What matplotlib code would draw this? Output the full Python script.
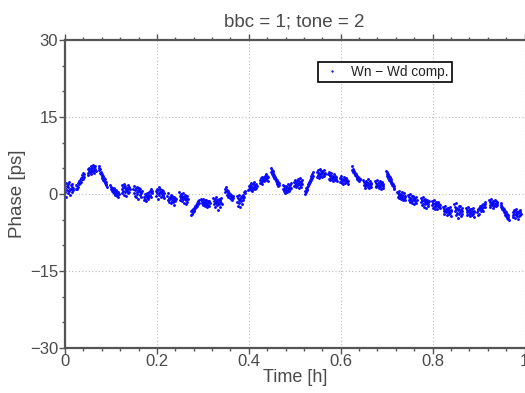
import numpy as np
import matplotlib
matplotlib.use("Agg")
import matplotlib.pyplot as plt
from matplotlib.ticker import MultipleLocator

# Scan start times [h]; each scan lasts scan_len hours
scan_start = [0.000, 0.024, 0.049, 0.073, 0.099, 0.123, 0.149, 0.172, 0.198, 0.223,
              0.249, 0.274, 0.297, 0.323, 0.348, 0.374, 0.399, 0.424, 0.448, 0.474,
              0.498, 0.522, 0.548, 0.573, 0.598, 0.624, 0.649, 0.675, 0.699, 0.723,
              0.747, 0.774, 0.798, 0.823, 0.847, 0.873, 0.897, 0.923, 0.948, 0.974]
scan_len = 0.018

# Phase samples per scan [ps]
phase = [
    [1.2, 0.4, 2.1, -0.6, 1.5, 0.8, 1.9, 0.1, 1.3, 2.4, 0.6, 1.0, -0.2, 1.7, 0.9, 2.0, 0.3, 1.4, 1.1, 0.7],
    [1.0, 1.8, 0.9, 1.6, 2.2, 1.4, 2.5, 1.9, 2.8, 2.1, 2.6, 3.2, 2.4, 3.0, 3.7, 2.9, 3.4, 4.1, 3.3, 3.8],
    [4.0, 4.8, 3.7, 4.5, 5.1, 4.2, 4.9, 5.4, 4.4, 3.9, 4.7, 5.0, 4.3, 5.6, 4.6, 4.1, 5.2, 4.8, 5.5, 4.5],
    [5.4, 4.6, 5.0, 4.1, 4.8, 3.9, 4.3, 3.5, 3.9, 3.2, 3.6, 2.8, 3.1, 2.5, 2.9, 2.1, 2.4, 1.7, 2.0, 1.3],
    [1.7, 1.0, 1.4, 0.6, 1.1, 0.3, 0.9, 1.2, 0.2, 0.7, -0.1, 0.5, 0.1, 0.8, -0.4, 0.3, -0.2, 0.4, -0.5, 0.0],
    [0.9, 1.8, 0.2, 1.3, 0.6, 2.0, -0.2, 1.1, 0.4, 1.5, 0.8, -0.4, 1.2, 0.5, 1.7, 0.1, 0.9, 1.4, 0.3, 1.0],
    [1.0, 0.1, 1.6, -0.3, 0.7, 1.2, -0.6, 0.4, 1.4, 0.0, 0.8, -0.9, 0.6, 1.1, -0.2, 0.3, 0.9, 0.2, -0.5, 0.5],
    [-0.6, -1.2, 0.0, -0.9, -0.3, -1.4, -0.5, 0.2, -1.0, -0.2, -0.7, 0.4, -0.4, -0.1, 0.6, -0.5, 0.3, 0.9, 0.1, 0.5],
    [0.5, -0.4, 1.0, 0.2, -0.9, 0.7, 0.1, 1.3, -0.2, 0.4, 0.9, -0.6, 0.3, 0.0, 0.8, -0.3, 0.6, -0.1, 0.2, -0.7],
    [-0.3, -1.1, 0.1, -0.7, -1.5, -0.5, -1.0, -0.2, -1.8, -0.8, -0.4, -1.3, -0.9, -1.6, -0.6, -1.1, -2.1, -0.7, -1.4, -1.0],
    [0.3, -0.4, -1.1, 0.0, -0.8, -0.3, -1.4, -0.6, 0.1, -1.0, -0.5, -1.7, -0.2, -0.9, -2.0, -0.7, -1.2, -0.4, -1.5, -0.9],
    [-4.0, -3.4, -3.8, -3.1, -3.6, -3.0, -3.3, -2.7, -3.1, -2.4, -2.8, -2.2, -2.5, -1.9, -2.3, -1.7, -2.0, -1.4, -1.8, -1.2],
    [-1.0, -1.8, -1.3, -2.2, -0.9, -1.6, -2.0, -1.2, -2.4, -1.5, -1.9, -1.1, -1.7, -2.6, -1.4, -2.1, -1.6, -1.3, -2.3, -1.8],
    [-0.7, -1.3, -2.0, -1.0, -2.6, -1.5, -0.5, -1.8, -2.2, -1.2, -3.1, -1.6, -0.9, -2.0, -1.4, -2.5, -1.1, -1.7, -0.8, -1.9],
    [0.9, 0.3, 1.4, 0.6, -0.2, 0.8, 0.1, 0.5, -0.5, 0.2, -0.1, -0.7, 0.0, -0.4, -0.9, -0.2, -1.1, -0.6, -0.3, -0.8],
    [-0.4, -1.5, -0.8, -2.3, -1.1, -0.2, -1.8, -0.9, -2.6, -1.3, -0.6, -1.9, -0.3, -1.2, -0.1, -0.8, 0.3, -0.5, 0.1, 0.6],
    [0.7, 1.5, 0.9, 1.8, 1.1, 2.1, 0.8, 1.6, 1.2, 0.5, 1.9, 1.0, 1.4, 2.3, 1.3, 0.9, 1.7, 1.2, 2.0, 1.5],
    [2.2, 2.8, 2.4, 3.1, 2.6, 1.9, 3.3, 2.7, 3.0, 2.5, 3.4, 2.9, 3.6, 3.2, 2.8, 3.8, 3.1, 3.5, 2.6, 3.3],
    [5.1, 4.3, 4.7, 3.9, 4.4, 3.6, 4.1, 3.2, 3.7, 2.9, 3.4, 2.6, 3.0, 2.2, 2.7, 1.9, 2.4, 1.5, 2.1, 1.7],
    [1.8, 0.9, 1.5, 0.5, 1.2, 0.2, 1.0, 1.6, 0.7, 1.3, 0.4, 1.1, 1.9, 0.8, 1.4, 0.6, 1.7, 1.0, 2.1, 1.2],
    [1.5, 2.4, 1.8, 2.8, 1.3, 2.2, 1.9, 2.6, 1.6, 2.9, 2.0, 1.2, 2.5, 2.1, 3.1, 1.7, 2.3, 1.4, 2.7, 2.0],
    [0.0, 0.6, 0.3, 1.1, 0.7, 1.4, 1.0, 1.9, 1.5, 2.3, 1.9, 2.7, 2.4, 3.1, 2.8, 3.5, 3.2, 3.9, 3.6, 4.3],
    [3.4, 4.3, 3.7, 4.6, 3.9, 3.2, 4.1, 4.8, 3.6, 4.4, 3.8, 4.2, 3.3, 4.5, 3.9, 4.0, 3.5, 4.7, 3.8, 4.1],
    [3.9, 3.0, 4.2, 3.5, 2.7, 3.7, 3.2, 4.0, 2.9, 3.6, 3.3, 2.5, 3.8, 3.1, 3.4, 2.8, 3.6, 3.0, 3.3, 2.6],
    [3.2, 2.4, 2.9, 3.5, 2.6, 2.2, 3.0, 2.7, 1.9, 2.8, 3.3, 2.5, 2.1, 2.9, 2.6, 3.1, 2.3, 2.8, 2.0, 2.6],
    [5.4, 4.6, 4.9, 4.2, 4.7, 4.0, 4.4, 3.7, 4.1, 3.5, 3.9, 3.2, 3.6, 3.0, 3.4, 2.8, 3.2, 2.6, 3.0, 2.9],
    [2.7, 1.8, 2.4, 1.5, 2.2, 1.2, 2.0, 2.6, 1.7, 2.3, 1.4, 2.1, 2.9, 1.9, 1.1, 2.5, 1.6, 2.2, 1.3, 2.0],
    [2.5, 1.6, 2.2, 1.3, 2.0, 2.7, 1.5, 1.9, 1.1, 2.3, 1.8, 2.6, 1.4, 2.1, 0.9, 1.7, 2.4, 1.2, 1.9, 1.6],
    [4.5, 3.8, 4.2, 3.5, 3.9, 3.1, 3.6, 2.8, 3.3, 2.5, 2.9, 2.2, 2.6, 1.8, 2.2, 1.5, 1.9, 1.1, 1.5, 0.9],
    [0.4, -0.5, 0.1, -0.8, -0.2, 0.6, -0.6, 0.0, -1.0, -0.3, 0.3, -0.7, -0.1, -1.2, -0.4, 0.2, -0.9, -0.3, -0.6, -1.1],
    [-0.2, -1.1, -0.5, -1.6, -0.7, 0.0, -1.3, -0.9, -0.4, -1.8, -0.6, -1.2, -0.3, -1.0, -2.0, -0.8, -1.4, -0.5, -1.7, -1.1],
    [-0.8, -1.6, -1.1, -2.2, -1.4, -0.6, -1.9, -1.2, -2.5, -1.5, -1.0, -2.0, -1.3, -2.7, -1.7, -1.1, -2.3, -1.6, -1.9, -1.4],
    [-1.4, -2.2, -1.7, -2.7, -2.0, -1.2, -2.5, -1.9, -2.9, -2.1, -1.6, -2.4, -1.8, -3.0, -2.3, -1.5, -2.6, -2.0, -2.8, -2.2],
    [-2.6, -3.4, -2.9, -3.8, -3.1, -2.4, -3.6, -3.0, -4.1, -3.3, -2.8, -3.5, -2.7, -3.9, -3.2, -2.5, -3.7, -3.1, -4.2, -3.4],
    [-2.0, -3.4, -2.6, -4.1, -3.0, -1.7, -3.7, -2.8, -4.6, -3.2, -2.3, -3.9, -2.9, -3.5, -2.4, -4.3, -3.1, -2.7, -3.8, -3.3],
    [-2.8, -3.6, -3.1, -4.0, -3.3, -2.6, -3.9, -3.2, -4.3, -3.5, -2.9, -3.7, -3.0, -4.1, -3.4, -2.7, -3.8, -3.3, -4.4, -3.6],
    [-3.6, -2.9, -4.1, -3.2, -2.7, -3.8, -3.0, -2.4, -3.4, -2.6, -3.1, -2.1, -2.8, -3.3, -1.9, -2.5, -2.2, -1.6, -2.6, -2.0],
    [-1.2, -2.1, -1.5, -2.5, -1.8, -1.0, -2.2, -1.6, -2.7, -1.9, -1.3, -2.3, -1.7, -1.1, -2.0, -1.4, -2.4, -1.8, -1.5, -2.1],
    [-1.8, -2.6, -2.2, -3.0, -2.5, -3.2, -2.8, -3.5, -3.0, -3.7, -3.3, -4.0, -3.6, -4.3, -3.8, -4.6, -4.1, -4.9, -4.4, -5.1],
    [-4.5, -3.6, -4.1, -3.2, -3.9, -4.7, -3.4, -4.0, -3.0, -3.8, -4.3, -3.5, -4.8, -3.7, -3.3, -4.2, -3.6, -4.0, -3.1, -3.9],
]

x_ticks = [0, 0.2, 0.4, 0.6, 0.8, 1]
x_ticklabels = ["0", "0.2", "0.4", "0.6", "0.8", "1"]
y_ticks = [-30, -15, 0, 15, 30]
y_ticklabels = ["\u221230", "\u221215", "0", "15", "30"]

# Assemble sample times: uniform sampling within each scan
times = []
values = []
for t0, vals in zip(scan_start, phase):
    times.extend(np.linspace(t0, t0 + scan_len, len(vals)))
    values.extend(vals)

plt.rcParams["font.family"] = ["Liberation Sans", "DejaVu Sans"]
text_color = "#4a4a4a"
axis_color = "#555555"

fig = plt.figure(figsize=(5.25, 3.93), dpi=100)
ax = fig.add_axes([65 / 525, 1 - 348 / 393, 459.5 / 525, 308 / 393])

ax.plot(times, values, linestyle="none", marker="o", markersize=2.1,
        markeredgewidth=0, color="#0a0aff", label="Wn \u2212 Wd comp.")

ax.set_xlim(0, 1)
ax.set_ylim(-30, 30)
ax.set_xticks(x_ticks)
ax.set_xticklabels(x_ticklabels)
ax.set_yticks(y_ticks)
ax.set_yticklabels(y_ticklabels)
ax.xaxis.set_minor_locator(MultipleLocator(0.04))
ax.yaxis.set_minor_locator(MultipleLocator(5))

ax.tick_params(which="both", direction="out", color=axis_color,
               labelcolor=text_color, labelsize=12, top=True, right=False, width=1.0)
ax.tick_params(which="major", length=4, pad=1)
ax.tick_params(which="minor", length=2.5)
ax.tick_params(axis="x", which="major", pad=0)

for side in ("left", "top", "bottom"):
    ax.spines[side].set_color(axis_color)
    ax.spines[side].set_linewidth(1.6)
ax.spines["right"].set_visible(False)

ax.grid(True, which="major", linestyle=(0, (1, 2)), color="#bbbbbb", linewidth=0.8)

ax.set_title("bbc = 1; tone = 2", fontsize=13.5, color=text_color, pad=10)
ax.set_xlabel("Time [h]", fontsize=13, color=text_color, labelpad=0)
ax.set_ylabel("Phase [ps]", fontsize=13.5, color=text_color, labelpad=3)

leg = ax.legend(loc="upper right", bbox_to_anchor=(0.843, 0.93), fontsize=9.8,
                frameon=True, fancybox=False, framealpha=1, markerscale=0.8,
                handlelength=1.6, handletextpad=0.6, borderpad=0.25,
                borderaxespad=0)
leg.get_frame().set_edgecolor("black")
leg.get_frame().set_linewidth(1.2)
for txt in leg.get_texts():
    txt.set_color("#222222")

fig.savefig("out.png", dpi=100)
